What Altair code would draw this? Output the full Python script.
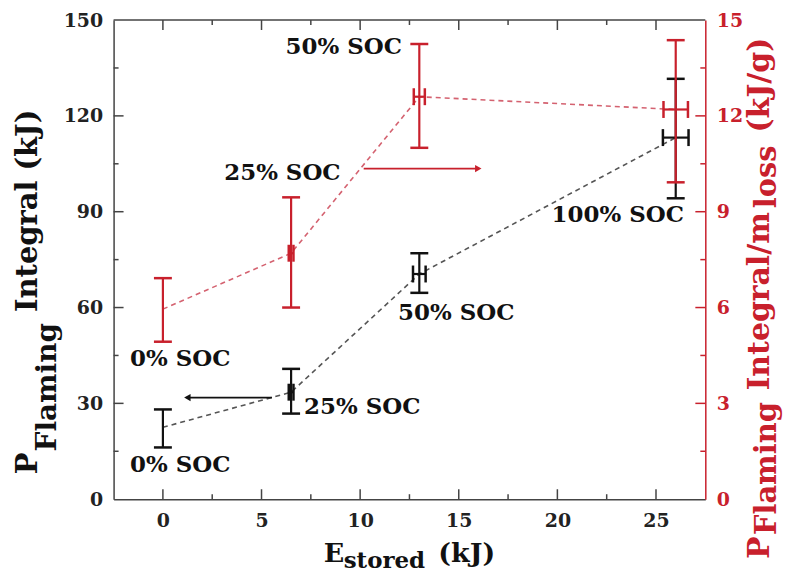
import altair as alt
import pandas as pd

# ---------------- data ----------------
E_stored = [0, 6.5, 13, 26]

black_y = [22.5, 33.5, 70.5, 113.2]
black_lo = [16.2, 26.8, 64.6, 94.2]
black_hi = [28.1, 40.8, 77.0, 131.6]
black_xerr = [0, 0.12, 0.32, 0.65]

red_y = [5.95, 7.7, 12.6, 12.2]
red_lo = [4.93, 6.0, 11.0, 9.92]
red_hi = [6.92, 9.45, 14.25, 14.37]
red_xerr = [0, 0.12, 0.28, 0.62]

x_major = [0, 5, 10, 15, 20, 25]
x_minor = [2.5, 7.5, 12.5, 17.5, 22.5]
yl_major = [0, 30, 60, 90, 120, 150]
yl_minor = [15, 45, 75, 105, 135]
yr_major = [0, 3, 6, 9, 12, 15]
yr_minor = [1.5, 4.5, 7.5, 10.5, 13.5]

ann_labels = ["50% SOC", "25% SOC", "0% SOC", "0% SOC", "50% SOC", "100% SOC"]
ann_x = [9.17, 6.06, 0.88, 0.88, 14.87, 23.06]
ann_y = [141.4, 102.0, 44.0, 10.6, 58.2, 88.9]
ann_left_label = ["25% SOC"]
ann_left_x = [7.16]
ann_left_y = [29.0]

arrow_x1 = [10.18, 5.53]
arrow_x2 = [15.99, 1.24]
arrow_y = [103.5, 31.8]

# ---------------- styles ----------------
RED = "#c8202c"
RED_LINE = "#d46270"
BLACK = "#111111"
BLACK_LINE = "#555555"
AXIS = "#444444"
FONT = "DejaVu Serif"
W, H = 594, 481

xs = alt.Scale(domain=[-2.5, 27.5], nice=False, zero=False)
yl = alt.Scale(domain=[0, 150], nice=False, zero=False)
yr = alt.Scale(domain=[0, 15], nice=False, zero=False)

x_axis = alt.Axis(
    values=x_major, tickSize=0, labelPadding=12, grid=False, title=None,
    labelFont=FONT, labelFontSize=19, labelFontWeight="bold", labelColor="#222222",
    domainColor=AXIS, domainWidth=1.5,
)
yl_axis = alt.Axis(
    orient="left", values=yl_major, tickSize=0, labelPadding=11, grid=False, title=None,
    labelFont=FONT, labelFontSize=19, labelFontWeight="bold", labelColor="#222222",
    domainColor=AXIS, domainWidth=1.5,
)
yr_axis = alt.Axis(
    orient="right", values=yr_major, tickSize=0, labelPadding=11, grid=False, title=None,
    labelFont=FONT, labelFontSize=19, labelFontWeight="bold", labelColor=RED,
    domainColor=RED, domainWidth=1.5,
)


def X(f):
    return alt.X(f, scale=xs, axis=x_axis)


def YL(f):
    return alt.Y(f, scale=yl, axis=yl_axis)


def YR(f):
    return alt.Y(f, scale=yr, axis=yr_axis)


def make_df(y, lo, hi, xerr):
    df = pd.DataFrame({"E": E_stored, "y": y, "lo": lo, "hi": hi, "xerr": xerr})
    df["xlo"] = df["E"] - df["xerr"]
    df["xhi"] = df["E"] + df["xerr"]
    return df


def series(df, color, linecolor, Y):
    base = alt.Chart(df)
    line = base.mark_line(strokeDash=[5, 4], color=linecolor, strokeWidth=1.6).encode(
        x=X("E:Q"), y=Y("y:Q"),
    )
    vbar = base.mark_rule(color=color, strokeWidth=2.2).encode(
        x=X("E:Q"), y=Y("lo:Q"), y2="hi:Q",
    )
    caps = base.transform_fold(["lo", "hi"], as_=["k", "v"]).mark_tick(
        orient="horizontal", size=18, thickness=2.5, color=color, opacity=1
    ).encode(x=X("E:Q"), y=Y("v:Q"))
    hbar = base.transform_filter("datum.xerr > 0").mark_rule(color=color, strokeWidth=2.2).encode(
        x=X("xlo:Q"), x2="xhi:Q", y=Y("y:Q"),
    )
    hcaps = base.transform_filter("datum.xerr > 0").transform_fold(
        ["xlo", "xhi"], as_=["k", "v"]
    ).mark_tick(orient="vertical", size=17, thickness=2.5, color=color, opacity=1).encode(
        x=X("v:Q"), y=Y("y:Q"),
    )
    return [line, vbar, caps, hbar, hcaps]


bdf = make_df(black_y, black_lo, black_hi, black_xerr)
rdf = make_df(red_y, red_lo, red_hi, red_xerr)

dummy = pd.DataFrame({"d": [0]})


# inward ticks
def xticks(vals, y0, y1):
    return alt.Chart(pd.DataFrame({"v": vals})).mark_rule(color=AXIS, strokeWidth=1.5).encode(
        x=X("v:Q"), y=alt.value(y0), y2=alt.value(y1)
    )


def yticks(vals, Y, x0, x1, color):
    return alt.Chart(pd.DataFrame({"v": vals})).mark_rule(color=color, strokeWidth=1.5).encode(
        y=Y("v:Q"), x=alt.value(x0), x2=alt.value(x1)
    )


top_border = alt.Chart(dummy).mark_rule(color=AXIS, strokeWidth=1.5).encode(
    x=alt.value(0), x2=alt.value(W), y=alt.value(0)
)

ticks_left = [
    xticks(x_major, H, H - 10), xticks(x_minor, H, H - 5),
    xticks(x_major, 0, 10), xticks(x_minor, 0, 5),
    yticks(yl_major[1:-1], YL, 0, 10, AXIS), yticks(yl_minor, YL, 0, 5, AXIS),
]
ticks_right = [
    yticks(yr_major[1:-1], YR, W, W - 10, RED), yticks(yr_minor, YR, W, W - 5, RED),
]

# annotations
ann = alt.Chart(pd.DataFrame({"t": ann_labels, "x": ann_x, "y": ann_y})).mark_text(
    font=FONT, fontSize=23, fontWeight="bold", color=BLACK, align="center", baseline="middle"
).encode(x=X("x:Q"), y=YL("y:Q"), text="t:N")
ann_left = alt.Chart(pd.DataFrame({"t": ann_left_label, "x": ann_left_x, "y": ann_left_y})).mark_text(
    font=FONT, fontSize=23, fontWeight="bold", color=BLACK, align="left", baseline="middle"
).encode(x=X("x:Q"), y=YL("y:Q"), text="t:N")

arr = pd.DataFrame({"x1": arrow_x1, "x2": arrow_x2, "y": arrow_y, "c": ["red", "black"]})
cscale = alt.Scale(domain=["red", "black"], range=[RED, BLACK])
arrow_lines = alt.Chart(arr).mark_rule(strokeWidth=1.6).encode(
    x=X("x1:Q"), x2="x2:Q", y=YL("y:Q"),
    color=alt.Color("c:N", scale=cscale, legend=None),
)
arrow_heads = alt.Chart(arr).transform_calculate(
    shp="datum.x2 > datum.x1 ? 'triangle-right' : 'triangle-left'"
).mark_point(filled=True, size=55, opacity=1).encode(
    x=X("x2:Q"), y=YL("y:Q"),
    shape=alt.Shape("shp:N", scale=None, legend=None),
    color=alt.Color("c:N", scale=cscale, legend=None),
)


# axis titles with subscripts
def txt(s, x, y, size, color, angle=0):
    kw = dict(font=FONT, fontSize=size, fontWeight="bold", color=color, align="left", baseline="alphabetic")
    if angle:
        kw["angle"] = angle
    return alt.Chart(dummy).mark_text(**kw).encode(x=alt.value(x), y=alt.value(y), text=alt.value(s))


OX, OY = 114, 19  # plot origin on page
titles = [
    # left title
    txt("P", 37 - OX, 475 - OY, 29, BLACK, 270),
    txt("Flaming", 56 - OX, 452 - OY, 28, BLACK, 270),
    txt("Integral (kJ)", 37 - OX, 312 - OY, 29, BLACK, 270),
    # x title
    txt("E", 325 - OX, 563 - OY, 27, BLACK),
    txt("stored", 345 - OX, 569 - OY, 23, BLACK),
    txt("(kJ)", 440 - OX, 563 - OY, 27, BLACK),
    # right title
    txt("P", 772 - OX, 560 - OY, 30, RED, 270),
    txt("Flaming", 779 - OX, 536 - OY, 29, RED, 270),
    txt("Integral/m", 772 - OX, 391 - OY, 30, RED, 270),
    txt("loss", 779 - OX, 208 - OY, 29, RED, 270),
    txt("(kJ/g)", 772 - OX, 132 - OY, 30, RED, 270),
]

left_group = alt.layer(
    *series(bdf, BLACK, BLACK_LINE, YL),
    top_border, *ticks_left, ann, ann_left, arrow_lines, arrow_heads, *titles,
)
right_group = alt.layer(*series(rdf, RED, RED_LINE, YR), *ticks_right)

chart = alt.layer(left_group, right_group).resolve_scale(y="independent").properties(
    width=W, height=H,
    padding={"left": 106, "top": 11, "right": 80, "bottom": 74},
    autosize=alt.AutoSizeParams(type="none"),
    background="white",
).configure_view(stroke=None)

chart.save("out.html", embed_options={"renderer": "svg", "actions": False})
